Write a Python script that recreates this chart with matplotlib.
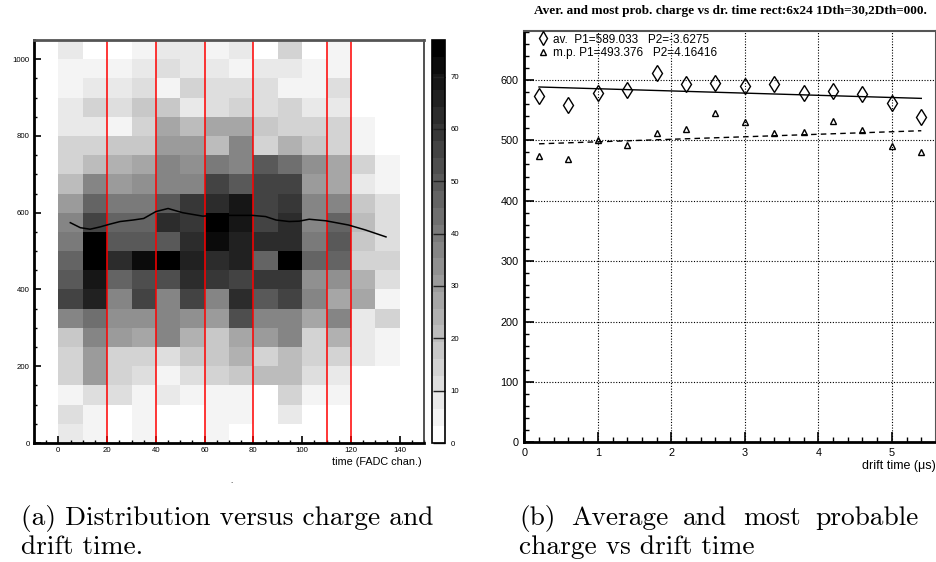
import numpy as np
import matplotlib.pyplot as plt
from matplotlib.colors import Normalize
from matplotlib.ticker import MultipleLocator

# counts per (drift time, charge) bin; rows go from charge 0-50 upward, columns from time 0-10 upward
time_edges = np.arange(0, 150, 10)
charge_edges = np.arange(0, 1100, 50)
counts = np.array([
    [7, 4, 0, 4, 0, 0, 4, 0, 0, 0, 0, 0, 0, 0],
    [10, 4, 0, 4, 0, 0, 4, 4, 0, 7, 0, 0, 0, 0],
    [4, 10, 10, 4, 7, 4, 4, 4, 0, 13, 4, 4, 0, 0],
    [13, 29, 13, 10, 4, 10, 13, 17, 20, 20, 10, 7, 0, 0],
    [13, 30, 13, 13, 10, 17, 17, 23, 13, 20, 13, 13, 7, 4],
    [17, 38, 29, 26, 36, 23, 17, 26, 29, 36, 13, 23, 7, 4],
    [38, 43, 33, 33, 38, 33, 29, 53, 38, 38, 26, 36, 7, 13],
    [55, 67, 38, 55, 38, 55, 38, 64, 50, 55, 38, 26, 26, 4],
    [50, 70, 47, 53, 53, 64, 58, 55, 58, 58, 33, 33, 23, 10],
    [48, 77, 61, 72, 74, 66, 64, 67, 45, 74, 47, 47, 15, 13],
    [41, 77, 51, 51, 50, 64, 72, 67, 61, 61, 41, 51, 19, 10],
    [38, 55, 45, 45, 64, 58, 77, 70, 55, 64, 38, 48, 20, 10],
    [29, 45, 41, 41, 50, 58, 64, 70, 55, 58, 38, 38, 17, 10],
    [20, 38, 30, 33, 36, 38, 55, 51, 55, 55, 29, 26, 7, 4],
    [13, 20, 23, 26, 36, 33, 41, 38, 50, 43, 33, 26, 13, 4],
    [13, 13, 17, 17, 30, 29, 20, 38, 13, 23, 17, 13, 4, 0],
    [7, 7, 5, 13, 26, 20, 26, 26, 17, 13, 13, 13, 4, 0],
    [7, 13, 10, 17, 17, 7, 10, 13, 10, 13, 7, 7, 0, 0],
    [4, 7, 7, 10, 5, 13, 10, 10, 10, 4, 4, 10, 0, 0],
    [4, 4, 4, 7, 10, 7, 7, 4, 7, 7, 4, 4, 0, 0],
    [7, 0, 0, 4, 7, 7, 4, 7, 0, 13, 0, 4, 0, 0],
])

# mean charge profile and the time cuts
curve_t = [4.9, 9.0, 13.0, 17.1, 21.0, 25.3, 30.7, 35.0, 40.0, 45.0, 51.0, 59.3,
           63.4, 71.6, 79.7, 85.0, 89.3, 94.7, 98.8, 102.9, 109.7, 119.0, 126.0, 134.4]
curve_q = [574, 561, 557, 563, 570, 577, 581, 585, 603, 611, 600, 591,
           593, 593, 593, 590, 581, 577, 578, 583, 579, 568, 555, 537]
cut_times = [20, 40, 60, 80, 110, 120]

# average and most probable charge per drift time slice
drift = [0.2, 0.6, 1.0, 1.4, 1.8, 2.2, 2.6, 3.0, 3.4, 3.8, 4.2, 4.6, 5.0, 5.4]
q_avg = [573, 558, 578, 584, 612, 593, 595, 590, 593, 579, 582, 576, 561, 539]
q_mp = [474, 469, 500, 492, 512, 518, 546, 531, 512, 513, 532, 517, 491, 481]
fit_avg = (589.033, -3.6275)
fit_mp = (493.376, 4.16416)

W, H = 937, 562
fig = plt.figure(figsize=(W / 100, H / 100), dpi=100)
sans = 'Liberation Sans'

def box(x0, y0, x1, y1):
    return [x0 / W, 1 - y1 / H, (x1 - x0) / W, (y1 - y0) / H]

# ---- left: 2D distribution
ax1 = fig.add_axes(box(34, 40, 424, 443))
cmap = plt.get_cmap('gray_r', 24)
mesh = ax1.pcolormesh(time_edges, charge_edges, counts, cmap=cmap,
                      norm=Normalize(0, 77))
for t in cut_times:
    ax1.axvline(t, color='#ff0000', lw=1.1)
ax1.plot(curve_t, curve_q, color='black', lw=1.1)
ax1.set_xlim(-10, 150)
ax1.set_ylim(0, 1050)
ax1.xaxis.set_major_locator(MultipleLocator(20))
ax1.xaxis.set_minor_locator(MultipleLocator(5))
ax1.yaxis.set_major_locator(MultipleLocator(200))
ax1.yaxis.set_minor_locator(MultipleLocator(50))
ax1.tick_params(which='both', direction='in', labelsize=5.6, pad=3)
ax1.tick_params(which='major', length=5, width=1.2)
ax1.tick_params(which='minor', length=2.5, width=1)
for lbl in ax1.get_xticklabels() + ax1.get_yticklabels():
    lbl.set_family(sans)
ax1.spines['top'].set(color='#555555', lw=2)
ax1.spines['left'].set(color='black', lw=2)
ax1.spines['bottom'].set(color='black', lw=2)
ax1.spines['right'].set(color='#333333', lw=1.2)
ax1.text(0.995, -0.047, 'time (FADC chan.)', transform=ax1.transAxes, ha='right',
         va='center', fontsize=7.8, family=sans)

cax = fig.add_axes(box(432, 40, 445, 443))
cb = fig.colorbar(mesh, cax=cax, ticks=range(0, 80, 10))
cb.outline.set_linewidth(1.2)
cax.tick_params(direction='in', length=9, width=1, color='#222222',
                labelsize=5.6, pad=4)
for lbl in cax.get_yticklabels():
    lbl.set_family(sans)

# ---- right: average / most probable charge
ax2 = fig.add_axes(box(524.3, 31, 936, 442.3))
ax2.plot(drift, q_avg, ls='none', marker='d', ms=8, mfc='none', mec='black', mew=1)
ax2.plot(drift, q_mp, ls='none', marker='^', ms=4.5, mfc='none', mec='black', mew=1)
xs = np.array([drift[0], drift[-1]])
ax2.plot(xs, fit_avg[0] + fit_avg[1] * xs, color='black', lw=1)
ax2.plot(xs, fit_mp[0] + fit_mp[1] * xs, color='black', lw=1, dashes=(4, 3))
ax2.set_xlim(0, 5.6)
ax2.set_ylim(0, 681)
ax2.xaxis.set_major_locator(MultipleLocator(1))
ax2.xaxis.set_minor_locator(MultipleLocator(0.2))
ax2.yaxis.set_major_locator(MultipleLocator(100))
ax2.yaxis.set_minor_locator(MultipleLocator(20))
ax2.grid(which='major', color='black', ls=(0, (1, 1.5)), lw=0.8)
ax2.tick_params(which='both', direction='in', labelsize=7.8, pad=4)
ax2.tick_params(which='major', length=7, width=1.2)
ax2.tick_params(which='minor', length=3.5, width=1)
for lbl in ax2.get_xticklabels() + ax2.get_yticklabels():
    lbl.set_family(sans)
ax2.spines['left'].set(color='black', lw=2)
ax2.spines['bottom'].set(color='black', lw=2)
ax2.spines['top'].set(color='#555555', lw=1.5)
ax2.spines['right'].set(color='#555555', lw=1.5)
ax2.text(1.0, -0.058, 'drift time (μs)', transform=ax2.transAxes, ha='right',
         va='center', fontsize=9, family=sans)

h_avg = plt.Line2D([], [], ls='none', marker='d', ms=7, mfc='none', mec='black')
h_mp = plt.Line2D([], [], ls='none', marker='^', ms=4, mfc='none', mec='black')
ax2.legend([h_avg, h_mp],
           [f'av.  P1={fit_avg[0]:g}   P2={fit_avg[1]:g}',
            f'm.p. P1={fit_mp[0]:g}   P2={fit_mp[1]:g}'],
           loc='upper left', bbox_to_anchor=(0.01, 1.014), frameon=False,
           prop={'family': sans, 'size': 8.5}, handlelength=1.0,
           handletextpad=0.4, labelspacing=0.15, borderpad=0.2)

fig.text(730 / W, 1 - 11 / H,
         'Aver. and most prob. charge vs dr. time rect:6x24 1Dth=30,2Dth=000.',
         ha='center', va='center', fontsize=9.5, fontweight='bold',
         family='Liberation Serif')

# ---- captions, justified like the surrounding text
cap = dict(fontsize=19.7, family='cmr10', va='baseline')

def justified(words, x0, x1, y):
    items = [fig.text(x0 / W, y, w, **cap) for w in words]
    r = fig.canvas.get_renderer()
    widths = [t.get_window_extent(r).width for t in items]
    gap = (x1 - x0 - sum(widths)) / (len(words) - 1)
    x = x0
    for t, w in zip(items, widths):
        t.set_x(x / W)
        x += w + gap

fig.text(21 / W, 1 - 525 / H, '(a) Distribution versus charge and', **cap)
fig.text(21 / W, 1 - 554 / H, 'drift time.', **cap)
justified(['(b)', 'Average', 'and', 'most', 'probable'], 519, 919, 1 - 525 / H)
fig.text(519 / W, 1 - 554 / H, 'charge vs drift time', **cap)
fig.text(231 / W, 1 - 481 / H, '.', fontsize=5, ha='center', va='center')

fig.savefig('out.png', dpi=100)
